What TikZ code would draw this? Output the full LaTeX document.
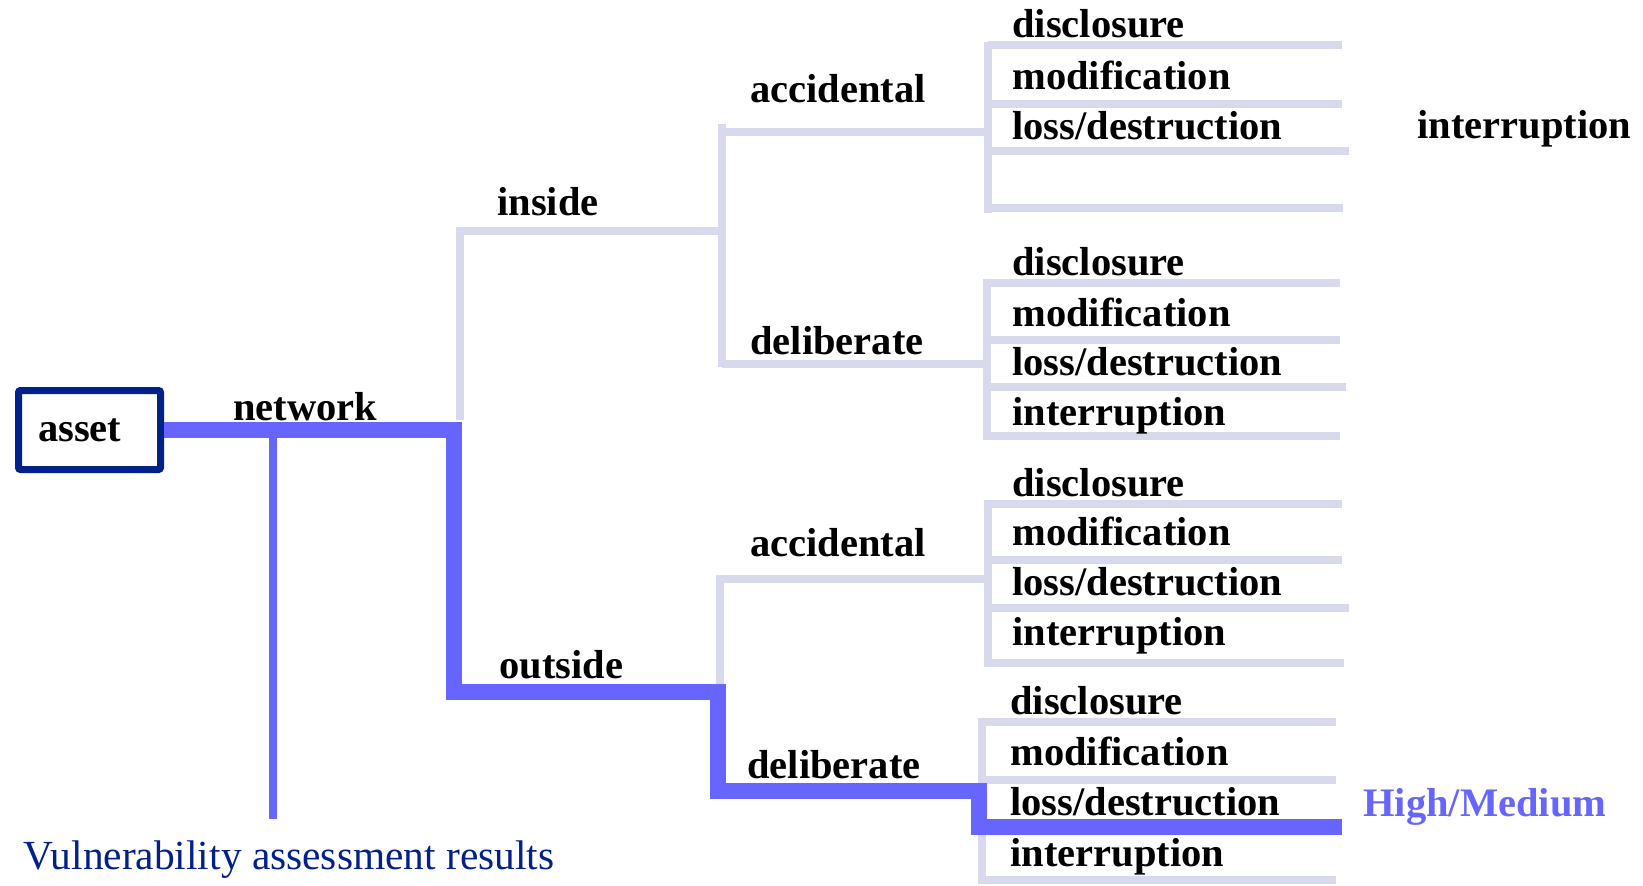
\documentclass[tikz,border=0pt]{standalone}
\usepackage{fontspec}
\setmainfont{Liberation Serif}
\definecolor{lav}{RGB}{217,217,237}
\definecolor{hib}{RGB}{102,102,255}
\definecolor{navy}{RGB}{0,32,138}
\newcommand{\lbfont}{\fontsize{20.25pt}{24pt}\selectfont\bfseries}
\newcommand{\vafont}{\fontsize{20.7pt}{24pt}\selectfont}
\begin{document}
\begin{tikzpicture}[x=0.5pt,y=-0.5pt,
  lav/.style={draw=lav, line width=3.8pt},
  hi/.style={draw=hib, line width=7.75pt, line join=miter},
  thinhi/.style={draw=hib, line width=4pt},
  lbl/.style={anchor=base west, inner sep=0pt, font=\lbfont},
  vlbl/.style={anchor=base west, inner sep=0pt, font=\vafont, text=navy},
  assetbox/.style={draw=navy, line width=3.5pt, fill=white, rounded corners=1pt,
     minimum width=71pt, minimum height=39.5pt, inner xsep=9.75pt,
     text width=51.5pt, align=left, font=\lbfont}]
\useasboundingbox (0,0) rectangle (1643,885);

% ---------- junction coordinates ----------
\coordinate (inLow) at (460,420);
\coordinate (inCorner) at (460,231);
\coordinate (inJ) at (722,231);
\coordinate (inTop) at (722,124);
\coordinate (inBot) at (722,367);
\coordinate (acc1L) at (722,132);
\coordinate (acc1R) at (988,132);
\coordinate (del1L) at (722,364);
\coordinate (del1R) at (987,364);
\coordinate (outTop) at (720,575);
\coordinate (outBot) at (720,700);
\coordinate (acc2L) at (720,579);
\coordinate (acc2R) at (988,579);

% group spines
\coordinate (g1t) at (988,42);  \coordinate (g1b) at (988,213);
\coordinate (g2t) at (987,279); \coordinate (g2b) at (987,440);
\coordinate (g3t) at (988,500); \coordinate (g3b) at (988,667);
\coordinate (g4t) at (982,718); \coordinate (g4b) at (982,884);

% ---------- lavender tree ----------
\draw[lav] (inLow) -- (inCorner) -- (inJ);
\draw[lav] (inTop) -- (inBot);
\draw[lav] (acc1L) -- (acc1R);
\draw[lav] (del1L) -- (del1R);
\draw[lav] (outTop) -- (outBot);
\draw[lav] (acc2L) -- (acc2R);

\draw[lav] (g1t) -- (g1b);
\foreach \y/\e in {45/1342,104/1342,151/1349,208/1343}
  \draw[lav] (g1t |- 0,\y) -- (\e,\y);
\draw[lav] (g2t) -- (g2b);
\foreach \y/\e in {283/1340,340/1340,387/1346,436/1340}
  \draw[lav] (g2t |- 0,\y) -- (\e,\y);
\draw[lav] (g3t) -- (g3b);
\foreach \y/\e in {504/1342,560/1342,608/1349,663/1344}
  \draw[lav] (g3t |- 0,\y) -- (\e,\y);
\draw[lav] (g4t) -- (g4b);
\foreach \y/\e in {722/1336,780/1336,880/1336}
  \draw[lav] (g4t |- 0,\y) -- (\e,\y);

% ---------- nodes ----------
\node[assetbox] (asset) at (89.5,430) {asset};
\node[lbl] (network) at (233,420) {network};
\node[lbl] (inside) at (497,215) {inside};
\node[lbl] (outside) at (499,678) {outside};
\node[lbl] (acc1) at (750,102) {accidental};
\node[lbl] (del1) at (750,354) {deliberate};
\node[lbl] (acc2) at (750,556) {accidental};
\node[lbl] (del2) at (747,778) {deliberate};

\node[lbl] (g1a) at (1012,37) {disclosure};
\node[lbl] (g1b) at (1012,89) {modification};
\node[lbl] (g1c) at (1012,139) {loss/destruction};
\node[lbl] (g1d) at (1417,138) {interruption};

\node[lbl] (g2a) at (1012,275) {disclosure};
\node[lbl] (g2b) at (1012,326) {modification};
\node[lbl] (g2c) at (1012,375) {loss/destruction};
\node[lbl] (g2d) at (1012,425) {interruption};

\node[lbl] (g3a) at (1012,496) {disclosure};
\node[lbl] (g3b) at (1012,545) {modification};
\node[lbl] (g3c) at (1012,595) {loss/destruction};
\node[lbl] (g3d) at (1012,645) {interruption};

\node[lbl] (g4a) at (1010,714) {disclosure};
\node[lbl] (g4b) at (1010,765) {modification};
\node[lbl] (g4c) at (1010,815) {loss/destruction};
\node[lbl] (g4d) at (1010,866) {interruption};

\node[lbl, text=hib] (hm) at (1363,816) {High/Medium};
\node[vlbl] (va) at (23,869) {Vulnerability assessment results};

% ---------- highlighted path ----------
\coordinate (b1) at (454,430);
\coordinate (b2) at (454,692);
\coordinate (b3) at (718,692);
\coordinate (b4) at (718,791);
\coordinate (b5) at (979,791);
\coordinate (b6) at (979,827);
\coordinate (bEnd) at (1342,827);
\draw[hi] (asset.east) -- (b1) -- (b2) -- (b3) -- (b4) -- (b5) -- (b6) -- (bEnd);

\coordinate (vaTop) at (273,819);
\draw[thinhi] (273,430) -- (vaTop);
\end{tikzpicture}
\end{document}
